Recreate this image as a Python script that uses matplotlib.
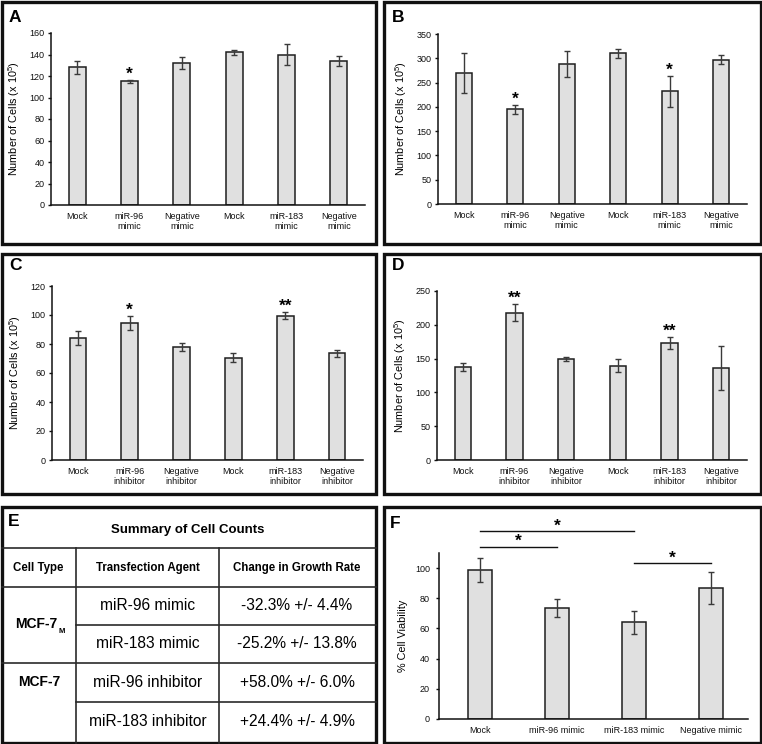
import matplotlib
matplotlib.use("Agg")
import matplotlib.pyplot as plt
from matplotlib.lines import Line2D
from matplotlib.patches import Rectangle

plt.rcParams['font.family'] = ['Liberation Sans', 'DejaVu Sans']
plt.rcParams['mathtext.fontset'] = 'custom'
plt.rcParams['mathtext.rm'] = 'Liberation Sans'
plt.rcParams['mathtext.default'] = 'regular'

# ---------------- data ----------------
mimic_labels = ["Mock", "miR-96\nmimic", "Negative\nmimic", "Mock", "miR-183\nmimic", "Negative\nmimic"]
inhib_labels = ["Mock", "miR-96\ninhibitor", "Negative\ninhibitor", "Mock", "miR-183\ninhibitor", "Negative\ninhibitor"]

a_values = [128, 115, 132, 142, 140, 134]
a_errors = [6, 1.5, 5.5, 2.5, 10, 4.5]
a_stars = ["", "*", "", "", "", ""]

b_values = [270, 195, 288, 310, 232, 297]
b_errors = [41, 9.5, 26, 9, 32, 9.5]
b_stars = ["", "*", "", "", "*", ""]

c_values = [84, 94.5, 78, 70.5, 99.5, 73.5]
c_errors = [5, 5, 2.5, 3, 2.5, 2.5]
c_stars = ["", "*", "", "", "**", ""]

d_values = [138, 218, 149, 139.5, 173, 136]
d_errors = [6, 13, 3, 9.5, 9, 32.5]
d_stars = ["", "**", "", "", "**", ""]

f_labels = ["Mock", "miR-96 mimic", "miR-183 mimic", "Negative mimic"]
f_values = [99, 73.5, 64, 87]
f_errors = [8, 6, 7.5, 10.5]
f_sig_pairs = [(0, 2), (0, 1), (2, 3)]
f_sig_levels = [124.5, 114, 103.3]

table_title = "Summary of Cell Counts"
table_headers = ["Cell Type", "Transfection Agent", "Change in Growth Rate"]
table_cell_types = ["MCF-7", "MCF-7"]
table_cell_subs = ["M", ""]
table_agents = ["miR-96 mimic", "miR-183 mimic", "miR-96 inhibitor", "miR-183 inhibitor"]
table_changes = ["-32.3% +/- 4.4%", "-25.2% +/- 13.8%", "+58.0% +/- 6.0%", "+24.4% +/- 4.9%"]

# ---------------- layout helpers ----------------
W, H = 762, 744
fig = plt.figure(figsize=(W / 100, H / 100), dpi=100)
fig.patch.set_facecolor("white")

def add_ax(l, t, r, b):
    return fig.add_axes([l / W, 1 - b / H, (r - l) / W, (b - t) / H])

BAR_FC = "#e0e0e0"
BAR_EC = "#1e1e1e"
ERR_C = "#3a3a3a"

def style_ax(ax, label, lab_px, width_px):
    for s in ["top", "right"]:
        ax.spines[s].set_visible(False)
    for s in ["left", "bottom"]:
        ax.spines[s].set_linewidth(1.1)
        ax.spines[s].set_color("#111111")
    ax.tick_params(axis="y", direction="out", length=2.5, width=1.0, labelsize=6.5, pad=2, colors="#111111")
    ax.tick_params(axis="x", length=0, labelsize=6.5, pad=5, colors="#111111")
    ax.set_ylabel(label, fontsize=7.8)
    ax.yaxis.set_label_coords(lab_px / width_px, 0.5)

def bar_panel(rect, labels, values, errors, stars, ymax, ystep):
    l, t, r, b = rect
    ax = add_ax(l, t, r, b)
    x = list(range(len(values)))
    ax.bar(x, values, width=0.32, color=BAR_FC, edgecolor=BAR_EC, linewidth=1.1, zorder=2)
    ax.errorbar(x, values, yerr=errors, fmt="none", ecolor=ERR_C, elinewidth=1.0,
                capsize=2.2, capthick=1.0, zorder=3)
    for xi, v, e, s in zip(x, values, errors, stars):
        if s:
            ax.annotate(s, (xi, v + e), xytext=(0, 0.8), textcoords="offset points",
                        ha="center", va="baseline", fontsize=12.5, fontweight="bold")
    ax.set_xlim(-0.5, len(values) - 0.5)
    ax.set_ylim(0, ymax)
    ax.set_yticks(range(0, ymax + 1, ystep))
    ax.set_xticks(x)
    ax.set_xticklabels(labels, linespacing=1.15)
    style_ax(ax, "Number of Cells (x 10$^{5}$)", -29, r - l)
    return ax

bar_panel((51, 33, 365, 205), mimic_labels, a_values, a_errors, a_stars, 160, 20)
bar_panel((438, 34, 747, 204), mimic_labels, b_values, b_errors, b_stars, 350, 50)
bar_panel((52, 286, 363, 460), inhib_labels, c_values, c_errors, c_stars, 120, 20)
bar_panel((437, 291, 747, 460), inhib_labels, d_values, d_errors, d_stars, 250, 50)

# Panel F
l, t, r, b = 439, 553, 748, 719
axf = add_ax(l, t, r, b)
xf = list(range(len(f_values)))
axf.bar(xf, f_values, width=0.31, color=BAR_FC, edgecolor=BAR_EC, linewidth=1.1, zorder=2)
axf.errorbar(xf, f_values, yerr=f_errors, fmt="none", ecolor=ERR_C, elinewidth=1.0,
             capsize=2.2, capthick=1.0, zorder=3)
axf.set_xlim(-0.53, 3.48)
axf.set_ylim(0, 110)
axf.set_yticks(range(0, 101, 20))
axf.set_xticks(xf)
axf.set_xticklabels(f_labels)
style_ax(axf, "% Cell Viability", -31, r - l)
axf.tick_params(axis="y", pad=4)
for (i, j), yl in zip(f_sig_pairs, f_sig_levels):
    axf.plot([i, j], [yl, yl], color="#111111", lw=1.0, clip_on=False)
    axf.text((i + j) / 2, yl + 0.5, "*", ha="center", va="baseline", fontsize=12.5,
             fontweight="bold", clip_on=False)

# ---------------- overlay: borders, letters, table ----------------
ov = fig.add_axes([0, 0, 1, 1], zorder=10)
ov.set_xlim(0, W)
ov.set_ylim(H, 0)
ov.axis("off")
ov.patch.set_alpha(0)

boxes = [(1.5, 1.5, 376, 244), (384, 1.5, 760.5, 244),
         (1.5, 254, 376, 494), (384, 254, 760.5, 494),
         (1.5, 507, 376, 742.5), (384, 507, 760.5, 742.5)]
for (x0, y0, x1, y1) in boxes:
    ov.add_patch(Rectangle((x0, y0), x1 - x0, y1 - y0, fill=False, lw=2.4, ec="#111111"))

letters = [("A", 9, 17), ("B", 392, 17), ("C", 9, 266), ("D", 392, 266), ("E", 8, 522), ("F", 390, 523)]
for s, x0, y0 in letters:
    ov.text(x0, y0, s, fontsize=12.5, fontweight="bold", va="center", ha="left")

# table grid
GL = "#2a2a2a"
tl, tr = 1.5, 376
c1, c2 = 76, 219
r_title, r_head, r1, r2, r3, r_bot = 548, 587, 625, 663, 702, 742.5
ov.add_line(Line2D([tl, tr], [r_title, r_title], color=GL, lw=1.2))
ov.add_line(Line2D([tl, tr], [r_head, r_head], color=GL, lw=1.2))
ov.add_line(Line2D([c1, tr], [r1, r1], color=GL, lw=1.2))
ov.add_line(Line2D([tl, tr], [r2, r2], color=GL, lw=1.2))
ov.add_line(Line2D([c1, tr], [r3, r3], color=GL, lw=1.2))
ov.add_line(Line2D([c1, c1], [r_title, r_bot], color=GL, lw=1.2))
ov.add_line(Line2D([c2, c2], [r_title, r_bot], color=GL, lw=1.2))

ov.text(188, 530, table_title, fontsize=9.5, fontweight="bold", ha="center", va="center")
col_centers = [38.5, 147.5, 297]
for cx, h in zip(col_centers, table_headers):
    ov.text(cx, 568, h, fontsize=8.3, fontweight="bold", ha="center", va="center")
row_centers = [606, 644, 682.5, 721.5]
for cy, a, c in zip(row_centers, table_agents, table_changes):
    ov.text(col_centers[1], cy, a, fontsize=11.2, ha="center", va="center")
    ov.text(col_centers[2], cy, c, fontsize=11.2, ha="center", va="center")
group_centers = [624, 682]
for cy, ct, sub in zip(group_centers, table_cell_types, table_cell_subs):
    if sub:
        ov.text(36, cy, ct, fontsize=10, fontweight="bold", ha="center", va="center")
        ov.text(58.5, cy + 7.5, sub, fontsize=5.5, fontweight="bold", ha="left", va="center")
    else:
        ov.text(39.5, cy, ct, fontsize=10, fontweight="bold", ha="center", va="center")

fig.savefig("out.png", dpi=100, facecolor="white")
